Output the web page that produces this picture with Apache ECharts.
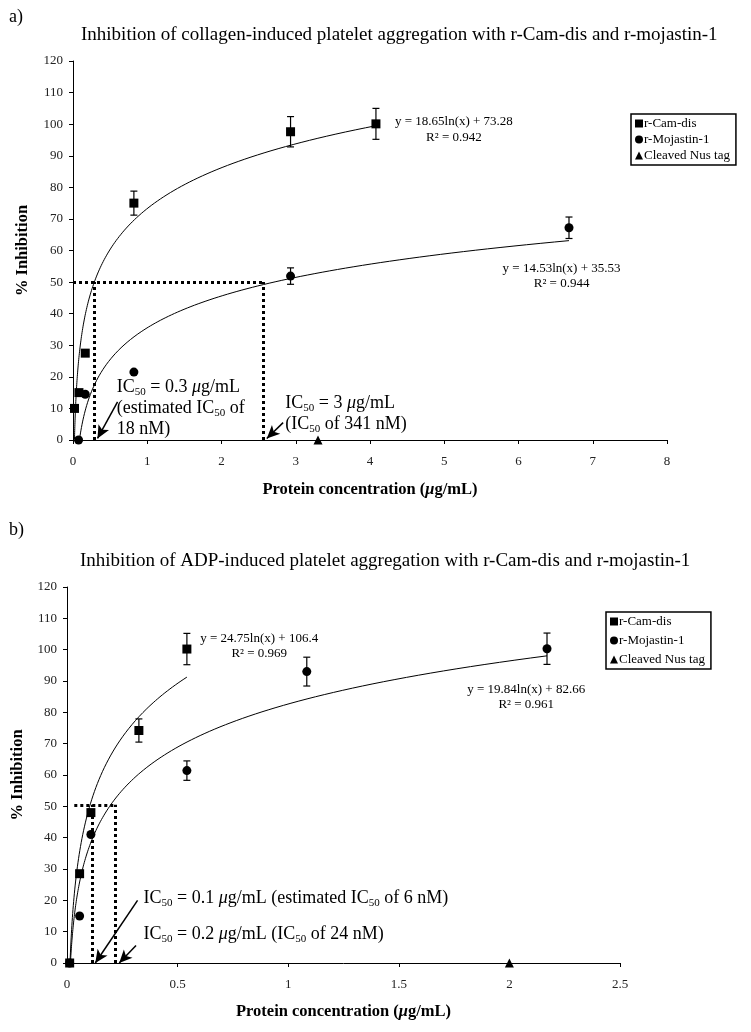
<!DOCTYPE html>
<html><head><meta charset="utf-8">
<script src="https://cdn.jsdelivr.net/npm/echarts@6/dist/echarts.min.js"></script>
<style>html,body{margin:0;padding:0;background:#fff}#c{width:751px;height:1032px}</style>
</head><body><div id="c"></div>
<script>
// ===== (a) collagen-induced =====
const aCamX = [0.02, 0.08, 0.165, 0.82, 2.93, 4.08];
const aCamY = [10, 15, 27.5, 75, 97.6, 100.1];
const aCamErr = [0, 0, 0, 3.8, 4.8, 4.9];
const aMojX = [0.075, 0.165, 0.82, 2.93, 6.68];
const aMojY = [0, 14.5, 21.5, 51.9, 67.2];
const aMojErr = [0, 0, 0, 2.6, 3.4];
const aNusX = [3.3];
const aNusY = [0];
const aCamFit = [18.65, 73.28], aCamR2 = '0.942';
const aMojFit = [14.53, 35.53], aMojR2 = '0.944';
const aXAxis = [0, 8, 1];
const aYAxis = [0, 120, 10];
const aIC50X = [0.28, 2.56];
const aIC50Level = 50;
const aIC50Start = 0;
const aArrows = [[[0.60, 12.1], [0.33, 0.5]], [[2.83, 5.5], [2.61, 0.5]]];

// ===== (b) ADP-induced =====
const bCamX = [0.012, 0.057, 0.108, 0.325, 0.542];
const bCamY = [0, 28.5, 48, 74.2, 100.2];
const bCamErr = [0, 0, 0, 3.7, 5];
const bMojX = [0.012, 0.057, 0.108, 0.542, 1.084, 2.17];
const bMojY = [0, 15, 41, 61.4, 93, 100.3];
const bMojErr = [0, 0, 0, 3.1, 4.6, 5];
const bNusX = [2.0];
const bNusY = [0];
const bCamFit = [24.75, 106.4], bCamR2 = '0.969';
const bMojFit = [19.84, 82.66], bMojR2 = '0.961';
const bXAxis = [0, 2.5, 0.5];
const bYAxis = [0, 120, 10];
const bIC50X = [0.113, 0.217];
const bIC50Level = 50.5;
const bIC50Start = 0.033;
const bArrows = [[[0.319, 20.0], [0.128, 0]], [[0.312, 5.6], [0.236, 0]]];

const seriesNames = ['r-Cam-dis', 'r-Mojastin-1', 'Cleaved Nus tag'];
const titles = ['Inhibition of collagen-induced platelet aggregation with r-Cam-dis and r-mojastin-1',
                'Inhibition of ADP-induced platelet aggregation with r-Cam-dis and r-mojastin-1'];

// ===== helpers =====
const FONT = '"Liberation Serif", "DejaVu Serif", serif';
const zip = (xs, ys) => xs.map((x, i) => [x, ys[i]]);
const zip3 = (xs, ys, es) => xs.map((x, i) => [x, ys[i], es[i]]);
function trend(coef, xs) {
  const x0 = Math.min(...xs), x1 = Math.max(...xs), n = 150, pts = [];
  for (let i = 0; i <= n; i++) {
    const x = x0 * Math.pow(x1 / x0, i / n);
    pts.push([x, coef[0] * Math.log(x) + coef[1]]);
  }
  return pts;
}
const eqText = (c, r2) => 'y = ' + c[0] + 'ln(x) + ' + c[1] + '\nR\u00b2 = ' + r2;

const rich = {
  t: {fontFamily: FONT, fontSize: 18, fill: '#000', lineHeight: 21},
  s: {fontFamily: FONT, fontSize: 11, fill: '#000', lineHeight: 12, verticalAlign: 'bottom'},
  i: {fontFamily: FONT, fontSize: 18, fill: '#000', lineHeight: 21, fontStyle: 'italic'}
};
const IC = '{t|IC}{s|50}';

function axisX(idx, r) {
  return {
    type: 'value', gridIndex: idx, min: r[0], max: r[1], interval: r[2],
    axisLine: {show: true, lineStyle: {color: '#000', width: 1}},
    axisTick: {show: true, length: 4, lineStyle: {color: '#000'}},
    axisLabel: {color: '#222', fontFamily: FONT, fontSize: 13, margin: 15},
    splitLine: {show: false},
    name: '{b|Protein concentration (}{bi|\u03bc}{b|g/mL)}',
    nameLocation: 'middle', nameGap: idx === 0 ? 41 : 40,
    nameTextStyle: {rich: {
      b: {fontFamily: FONT, fontSize: 16.5, fontWeight: 'bold', color: '#000'},
      bi: {fontFamily: FONT, fontSize: 16.5, fontWeight: 'bold', fontStyle: 'italic', color: '#000'}
    }}
  };
}
function axisY(idx, r) {
  return {
    type: 'value', gridIndex: idx, min: r[0], max: r[1], interval: r[2],
    axisLine: {show: true, lineStyle: {color: '#000', width: 1}},
    axisTick: {show: true, length: 4, lineStyle: {color: '#000'}},
    axisLabel: {color: '#222', fontFamily: FONT, fontSize: 13, margin: 10},
    splitLine: {show: false},
    name: '% Inhibition', nameLocation: 'middle', nameGap: idx === 0 ? 42 : 37,
    nameTextStyle: {fontFamily: FONT, fontSize: 16.5, fontWeight: 'bold', color: '#000'}
  };
}

function errSeries(idx, data) {
  return {
    type: 'custom', xAxisIndex: idx, yAxisIndex: idx, silent: true, z: 3,
    data: data.filter(d => d[2] > 0),
    encode: {x: 0, y: 1},
    renderItem: function (params, api) {
      const x = api.value(0), y = api.value(1), e = api.value(2);
      const p1 = api.coord([x, y + e]), p2 = api.coord([x, y - e]);
      const hw = 3.5, st = {stroke: '#000', lineWidth: 1.2};
      return {type: 'group', children: [
        {type: 'line', shape: {x1: p1[0], y1: p1[1], x2: p2[0], y2: p2[1]}, style: st},
        {type: 'line', shape: {x1: p1[0] - hw, y1: p1[1], x2: p1[0] + hw, y2: p1[1]}, style: st},
        {type: 'line', shape: {x1: p2[0] - hw, y1: p2[1], x2: p2[0] + hw, y2: p2[1]}, style: st}
      ]};
    }
  };
}
function scatter(idx, name, symbol, size, data) {
  return {type: 'scatter', name, xAxisIndex: idx, yAxisIndex: idx, symbol, symbolSize: size,
    itemStyle: {color: '#000', opacity: 1}, data, z: 5, silent: true, clip: false};
}
function trendSeries(idx, data) {
  return {type: 'line', name: 'fit', xAxisIndex: idx, yAxisIndex: idx, data, showSymbol: false,
    symbol: 'none', lineStyle: {color: '#000', width: 1}, silent: true, z: 2, clip: true};
}
function guides(idx, xs, level, start, arrows) {
  const dotted = {color: '#000', width: 3, type: [3, 3], cap: 'butt'};
  const lines = [
    [{coord: [start, level]}, {coord: [xs[1], level]}],
    [{coord: [xs[0], 0]}, {coord: [xs[0], level]}],
    [{coord: [xs[1], 0]}, {coord: [xs[1], level]}]
  ];
  return [{
    type: 'line', name: 'ic50', xAxisIndex: idx, yAxisIndex: idx, data: [], silent: true,
    markLine: {silent: true, symbol: ['none', 'none'], label: {show: false}, lineStyle: dotted,
      animation: false, data: lines}
  }, {
    type: 'line', name: 'arrows', xAxisIndex: idx, yAxisIndex: idx, data: [], silent: true,
    markLine: {silent: true, symbol: ['none', 'arrow'], symbolSize: [9, 13], label: {show: false},
      lineStyle: {color: '#000', width: 1.5, type: 'solid'}, animation: false,
      data: arrows.map(a => [{coord: a[0]}, {coord: a[1]}])}
  }];
}
function legend(left, top, gap) {
  return {
    orient: 'vertical', left, top, itemWidth: 8, itemHeight: 8, itemGap: gap,
    padding: [3, 6, 3, 4], borderColor: '#000', borderWidth: 1.5, selectedMode: false,
    textStyle: {fontFamily: FONT, fontSize: 13, color: '#000', padding: [9, 0, 0, -4]},
    data: [{name: seriesNames[0], icon: 'rect'}, {name: seriesNames[1], icon: 'circle'},
           {name: seriesNames[2], icon: 'triangle'}]
  };
}

// text annotations, anchored in data coordinates
const notesList = [
  {grid: 0, at: [0.59, 10.1], align: 'left', rich: true,
   text: IC + '{t| = 0.3 }{i|\u03bc}{t|g/mL}\n{t|(estimated }' + IC + '{t| of}\n{t|18 nM)}'},
  {grid: 0, at: [2.86, 8.3], align: 'left', rich: true,
   text: IC + '{t| = 3 }{i|\u03bc}{t|g/mL}\n{t|(}' + IC + '{t| of 341 nM)}'},
  {grid: 0, at: [5.13, 98.2], align: 'center', lh: 16, text: eqText(aCamFit, aCamR2)},
  {grid: 0, at: [6.58, 51.8], align: 'center', lh: 15, text: eqText(aMojFit, aMojR2)},
  {grid: 1, at: [0.346, 20.6], align: 'left', rich: true,
   text: IC + '{t| = 0.1 }{i|\u03bc}{t|g/mL (estimated }' + IC + '{t| of 6 nM)}'},
  {grid: 1, at: [0.346, 9.2], align: 'left', rich: true,
   text: IC + '{t| = 0.2 }{i|\u03bc}{t|g/mL (}' + IC + '{t| of 24 nM)}'},
  {grid: 1, at: [0.869, 101.3], align: 'center', lh: 15, text: eqText(bCamFit, bCamR2)},
  {grid: 1, at: [2.076, 85.0], align: 'center', lh: 15, text: eqText(bMojFit, bMojR2)}
];

const option = {
  animation: false,
  backgroundColor: '#fff',
  title: [
    {text: 'a)', left: 4, top: 3, textStyle: {fontFamily: FONT, fontSize: 18, fontWeight: 'normal', color: '#000'}},
    {text: titles[0], left: 76, top: 21, textStyle: {fontFamily: FONT, fontSize: 19, fontWeight: 'normal', color: '#000'}},
    {text: 'b)', left: 4, top: 516, textStyle: {fontFamily: FONT, fontSize: 18, fontWeight: 'normal', color: '#000'}},
    {text: titles[1], left: 75, top: 547, textStyle: {fontFamily: FONT, fontSize: 19, fontWeight: 'normal', color: '#000'}}
  ],
  legend: [legend(631, 114, 3), legend(606, 612, 6)],
  grid: [
    {left: 73, top: 61, width: 594, height: 379},
    {left: 67, top: 587, width: 553, height: 376}
  ],
  xAxis: [axisX(0, aXAxis), axisX(1, bXAxis)],
  yAxis: [axisY(0, aYAxis), axisY(1, bYAxis)],
  series: [
    trendSeries(0, trend(aCamFit, aCamX)),
    trendSeries(0, trend(aMojFit, aMojX)),
    ...guides(0, aIC50X, aIC50Level, aIC50Start, aArrows),
    errSeries(0, zip3(aCamX, aCamY, aCamErr)),
    errSeries(0, zip3(aMojX, aMojY, aMojErr)),
    scatter(0, seriesNames[0], 'rect', 9, zip(aCamX, aCamY)),
    scatter(0, seriesNames[1], 'circle', 9, zip(aMojX, aMojY)),
    scatter(0, seriesNames[2], 'triangle', 9, zip(aNusX, aNusY)),

    trendSeries(1, trend(bCamFit, bCamX)),
    trendSeries(1, trend(bMojFit, bMojX)),
    ...guides(1, bIC50X, bIC50Level, bIC50Start, bArrows),
    errSeries(1, zip3(bCamX, bCamY, bCamErr)),
    errSeries(1, zip3(bMojX, bMojY, bMojErr)),
    scatter(1, seriesNames[0], 'rect', 9, zip(bCamX, bCamY)),
    scatter(1, seriesNames[1], 'circle', 9, zip(bMojX, bMojY)),
    scatter(1, seriesNames[2], 'triangle', 9, zip(bNusX, bNusY))
  ]
};
const chart = echarts.init(document.getElementById('c'), null, {renderer: 'canvas'});
chart.setOption(option);

const graphics = notesList.map(n => {
  const p = chart.convertToPixel({gridIndex: n.grid}, n.at);
  const style = n.rich
    ? {text: n.text, rich, align: n.align, verticalAlign: 'middle', fill: '#000',
       fontFamily: FONT, fontSize: 18, lineHeight: 21}
    : {text: n.text, align: n.align, verticalAlign: 'middle', fill: '#000',
       fontFamily: FONT, fontSize: 13, lineHeight: n.lh};
  return {type: 'text', x: p[0], y: p[1], silent: true, z: 100, style};
});
chart.setOption({graphic: graphics});
</script>
</body></html>
